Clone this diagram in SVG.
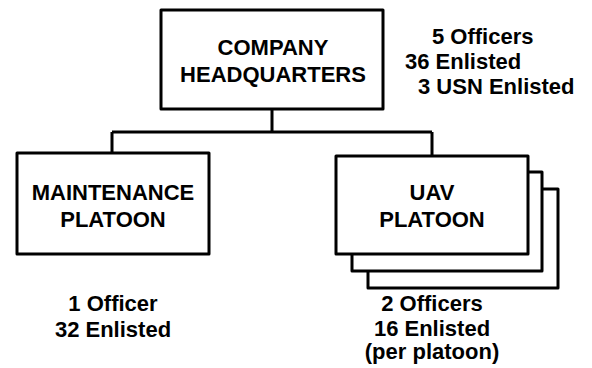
<svg xmlns="http://www.w3.org/2000/svg" width="592" height="368" viewBox="0 0 592 368">
<style>
.box{fill:#fff;stroke:#000;stroke-width:3;stroke-linejoin:round}
.ln{fill:none;stroke:#000;stroke-width:3}
text{font-family:"Liberation Sans",Arial,sans-serif;font-weight:bold;font-size:22px;fill:#000}
.c{text-anchor:middle}
</style>
<rect width="592" height="368" fill="#fff"/>
<g id="connectors">
<path class="ln" d="M272 109 V132 M112 132 H432 M112 132 V153 M432 132 V156"/>
</g>
<g id="hq">
<rect class="box" x="161" y="10" width="222" height="99"/>
<text class="c" x="273" y="55">COMPANY</text>
<text class="c" x="273" y="82">HEADQUARTERS</text>
<text x="432" y="44">5 Officers</text>
<text x="405" y="69">36 Enlisted</text>
<text x="418" y="94">3 USN Enlisted</text>
</g>
<g id="maintenance">
<rect class="box" x="17" y="153" width="192" height="101"/>
<text class="c" x="113" y="200">MAINTENANCE</text>
<text class="c" x="113" y="227">PLATOON</text>
<text class="c" x="113" y="311">1 Officer</text>
<text class="c" x="113" y="337">32 Enlisted</text>
</g>
<g id="uav">
<rect class="box" x="368" y="189" width="190" height="99"/>
<rect class="box" x="352" y="172" width="190" height="99"/>
<rect class="box" x="336" y="156" width="192" height="98"/>
<text class="c" x="432" y="200">UAV</text>
<text class="c" x="432" y="227">PLATOON</text>
<text class="c" x="432" y="311">2 Officers</text>
<text class="c" x="432" y="336">16 Enlisted</text>
<text class="c" x="432" y="359">(per platoon)</text>
</g>
</svg>
